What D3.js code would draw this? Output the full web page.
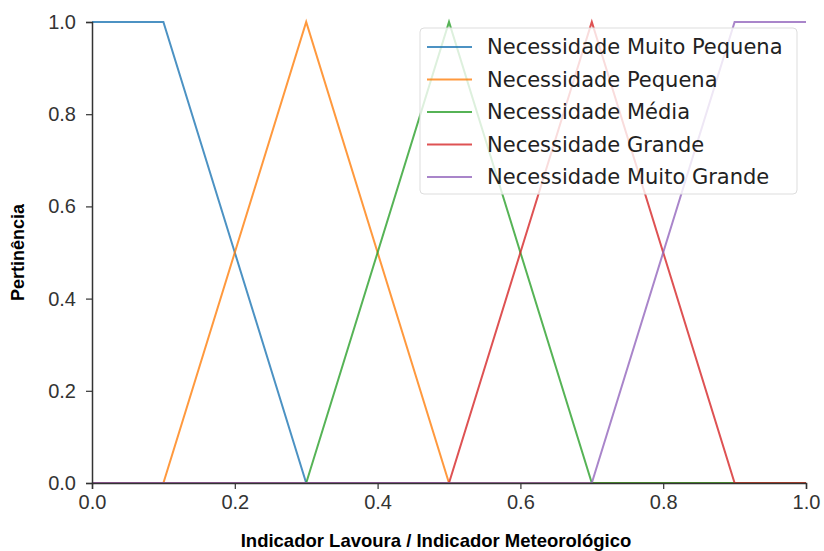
<!DOCTYPE html>
<html>
<head>
<meta charset="utf-8">
<script src="https://cdn.jsdelivr.net/npm/d3@7"></script>
<style>
  body { margin: 0; background: #fff; }
</style>
</head>
<body>
<div id="chart"></div>
<script>
// funções de pertinência (pontos de quebra em x e y)
const xPoints = [0, 0.1, 0.3, 0.5, 0.7, 0.9, 1.0];
const seriesNames = [
    "Necessidade Muito Pequena",
    "Necessidade Pequena",
    "Necessidade Média",
    "Necessidade Grande",
    "Necessidade Muito Grande"
];
const muitoPequena = [1, 1, 0, 0, 0, 0, 0];
const pequena      = [0, 0, 1, 0, 0, 0, 0];
const media        = [0, 0, 0, 1, 0, 0, 0];
const grande       = [0, 0, 0, 0, 1, 0, 0];
const muitoGrande  = [0, 0, 0, 0, 0, 1, 1];
const seriesValues = [muitoPequena, pequena, media, grande, muitoGrande];
const colors = ["#1f77b4", "#ff7f0e", "#2ca02c", "#d62728", "#9467bd"];
const xTicks = [0, 0.2, 0.4, 0.6, 0.8, 1.0];
const yTicks = [0, 0.2, 0.4, 0.6, 0.8, 1.0];

const width = 824, height = 551;
const margin = { left: 92, right: 18, top: 22, bottom: 68 };

const svg = d3.select("#chart").append("svg")
    .attr("width", width)
    .attr("height", height)
    .style("display", "block")
    .style("font-family", "'DejaVu Sans', sans-serif");

const x = d3.scaleLinear().domain([0, 1]).range([margin.left, width - margin.right]);
const y = d3.scaleLinear().domain([0, 1]).range([height - margin.bottom, margin.top]);

// linhas
const line = d3.line().x(d => x(d[0])).y(d => y(d[1]));
seriesValues.forEach((vals, i) => {
    svg.append("path")
        .datum(xPoints.map((xv, j) => [xv, vals[j]]))
        .attr("d", line)
        .attr("fill", "none")
        .attr("stroke", colors[i])
        .attr("stroke-opacity", 0.8)
        .attr("stroke-width", 2);
});

// eixos
const xAxis = svg.append("g")
    .attr("transform", `translate(0,${height - margin.bottom})`)
    .call(d3.axisBottom(x).tickValues(xTicks).tickFormat(d3.format(".1f")).tickSize(6).tickPadding(6));
const yAxis = svg.append("g")
    .attr("transform", `translate(${margin.left},0)`)
    .call(d3.axisLeft(y).tickValues(yTicks).tickFormat(d3.format(".1f")).tickSize(6).tickPadding(10));

[xAxis, yAxis].forEach(ax => {
    ax.select(".domain").attr("stroke", "#333").attr("stroke-width", 1.5);
    ax.selectAll(".tick line").attr("stroke", "#333").attr("stroke-width", 1.2);
    ax.selectAll(".tick text").attr("fill", "#333").style("font-size", "20px");
});

// títulos dos eixos
svg.append("text")
    .attr("x", 436)
    .attr("y", 547)
    .attr("text-anchor", "middle")
    .style("font-family", "'Liberation Sans', Arial, sans-serif")
    .style("font-size", "18.5px").style("font-weight", "bold")
    .text("Indicador Lavoura / Indicador Meteorológico");

svg.append("text")
    .attr("transform", `translate(24,${(margin.top + height - margin.bottom) / 2}) rotate(-90)`)
    .attr("text-anchor", "middle")
    .style("font-family", "'Liberation Sans', Arial, sans-serif")
    .style("font-size", "18px").style("font-weight", "bold")
    .text("Pertinência");

// legenda
const legend = svg.append("g").attr("transform", "translate(420,28)");
legend.append("rect")
    .attr("width", 377).attr("height", 166).attr("rx", 4)
    .attr("fill", "#fff").attr("fill-opacity", 0.8)
    .attr("stroke", "#ddd");
seriesNames.forEach((name, i) => {
    const yy = 19 + i * 32.5;
    legend.append("line")
        .attr("x1", 7).attr("x2", 52).attr("y1", yy).attr("y2", yy)
        .attr("stroke", colors[i]).attr("stroke-opacity", 0.8).attr("stroke-width", 2);
    legend.append("text")
        .attr("x", 67).attr("y", yy).attr("dy", "0.35em")
        .attr("fill", "#222")
        .style("font-size", "21px")
        .text(name);
});
</script>
</body>
</html>
